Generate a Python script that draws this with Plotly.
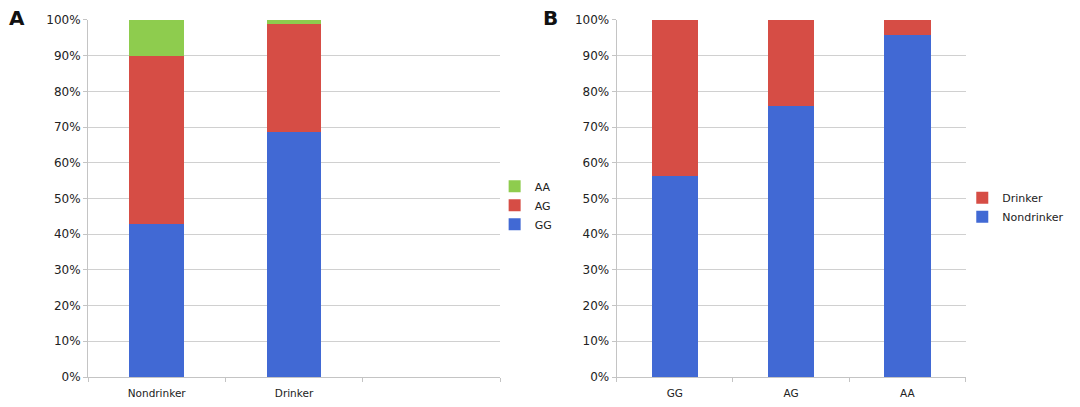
import plotly.graph_objects as go

# Panel A: genotype distribution (%) by drinking status
groups_a = ["Nondrinker", "Drinker"]
gg_a = [42.9, 68.6]
ag_a = [47.0, 30.3]
aa_a = [10.1, 1.1]

# Panel B: drinking status (%) by genotype
genos_b = ["GG", "AG", "AA"]
nondrinker_b = [56.3, 75.9, 95.8]
drinker_b = [43.7, 24.1, 4.2]

yticks = [0, 10, 20, 30, 40, 50, 60, 70, 80, 90, 100]
ytick_labels = [f"{v}%" for v in yticks]

BLUE = "#4169d4"
RED = "#d64d45"
GREEN = "#8ecc4e"
FONT = "DejaVu Sans, Arial, sans-serif"

fig = go.Figure()

fig.add_trace(go.Bar(x=groups_a, y=gg_a, name="GG", marker_color=BLUE,
                     width=0.4, xaxis="x", yaxis="y", legend="legend",
                     marker_line_width=0))
fig.add_trace(go.Bar(x=groups_a, y=ag_a, name="AG", marker_color=RED,
                     width=0.4, xaxis="x", yaxis="y", legend="legend",
                     marker_line_width=0))
fig.add_trace(go.Bar(x=groups_a, y=aa_a, name="AA", marker_color=GREEN,
                     width=0.4, xaxis="x", yaxis="y", legend="legend",
                     marker_line_width=0))

fig.add_trace(go.Bar(x=genos_b, y=nondrinker_b, name="Nondrinker", marker_color=BLUE,
                     width=0.4, xaxis="x2", yaxis="y2", legend="legend2",
                     marker_line_width=0))
fig.add_trace(go.Bar(x=genos_b, y=drinker_b, name="Drinker", marker_color=RED,
                     width=0.4, xaxis="x2", yaxis="y2", legend="legend2",
                     marker_line_width=0))

yaxis_common = dict(range=[0, 100], tickvals=yticks, ticktext=ytick_labels,
                    showgrid=True, gridcolor="#d0d0d0", gridwidth=1,
                    ticks="outside", ticklen=4, tickcolor="#c4c4c4",
                    showline=True, linecolor="#c4c4c4", linewidth=1,
                    tickfont=dict(family=FONT, size=12, color="#222"),
                    zeroline=False, fixedrange=True, automargin=False)
xaxis_common = dict(type="category", categoryorder="array", range=[-0.5, 2.5],
                    tickson="boundaries", ticks="outside", ticklen=4,
                    tickcolor="#c4c4c4", showgrid=False,
                    showline=True, linecolor="#c4c4c4", linewidth=1,
                    tickfont=dict(family=FONT, size=10.5, color="#222"),
                    automargin=False, ticklabelstandoff=6, fixedrange=True)

fig.update_layout(
    width=1080, height=407,
    margin=dict(l=0, r=0, t=0, b=0, autoexpand=False),
    paper_bgcolor="white", plot_bgcolor="white",
    barmode="stack",
    font=dict(family=FONT, size=11, color="#222"),
    xaxis=dict(domain=[0.0815, 0.463], anchor="y",
               categoryarray=groups_a + [" "], **xaxis_common),
    yaxis=dict(domain=[0.0737, 0.951], anchor="x", **yaxis_common),
    xaxis2=dict(domain=[0.571, 0.894], anchor="y2",
                categoryarray=genos_b, **xaxis_common),
    yaxis2=dict(domain=[0.0737, 0.951], anchor="x2", **yaxis_common),
    legend=dict(x=0.458, y=0.578, xanchor="left", yanchor="top",
                traceorder="reversed", font=dict(family=FONT, size=11, color="#222"),
                bgcolor="rgba(0,0,0,0)", itemwidth=30, tracegroupgap=0),
    legend2=dict(x=0.891, y=0.55, xanchor="left", yanchor="top",
                 traceorder="reversed", font=dict(family=FONT, size=11, color="#222"),
                 bgcolor="rgba(0,0,0,0)", itemwidth=30, tracegroupgap=0),
    annotations=[
        dict(text="<b>A</b>", x=0.016, y=0.955, xref="paper", yref="paper",
             xanchor="center", yanchor="middle", showarrow=False,
             font=dict(family=FONT, size=20, color="#111")),
        dict(text="<b>B</b>", x=0.51, y=0.955, xref="paper", yref="paper",
             xanchor="center", yanchor="middle", showarrow=False,
             font=dict(family=FONT, size=20, color="#111")),
    ],
)

fig.write_html("out.html", config={"displayModeBar": False},
               post_script="document.body.style.margin='0';document.body.style.overflow='hidden';")
